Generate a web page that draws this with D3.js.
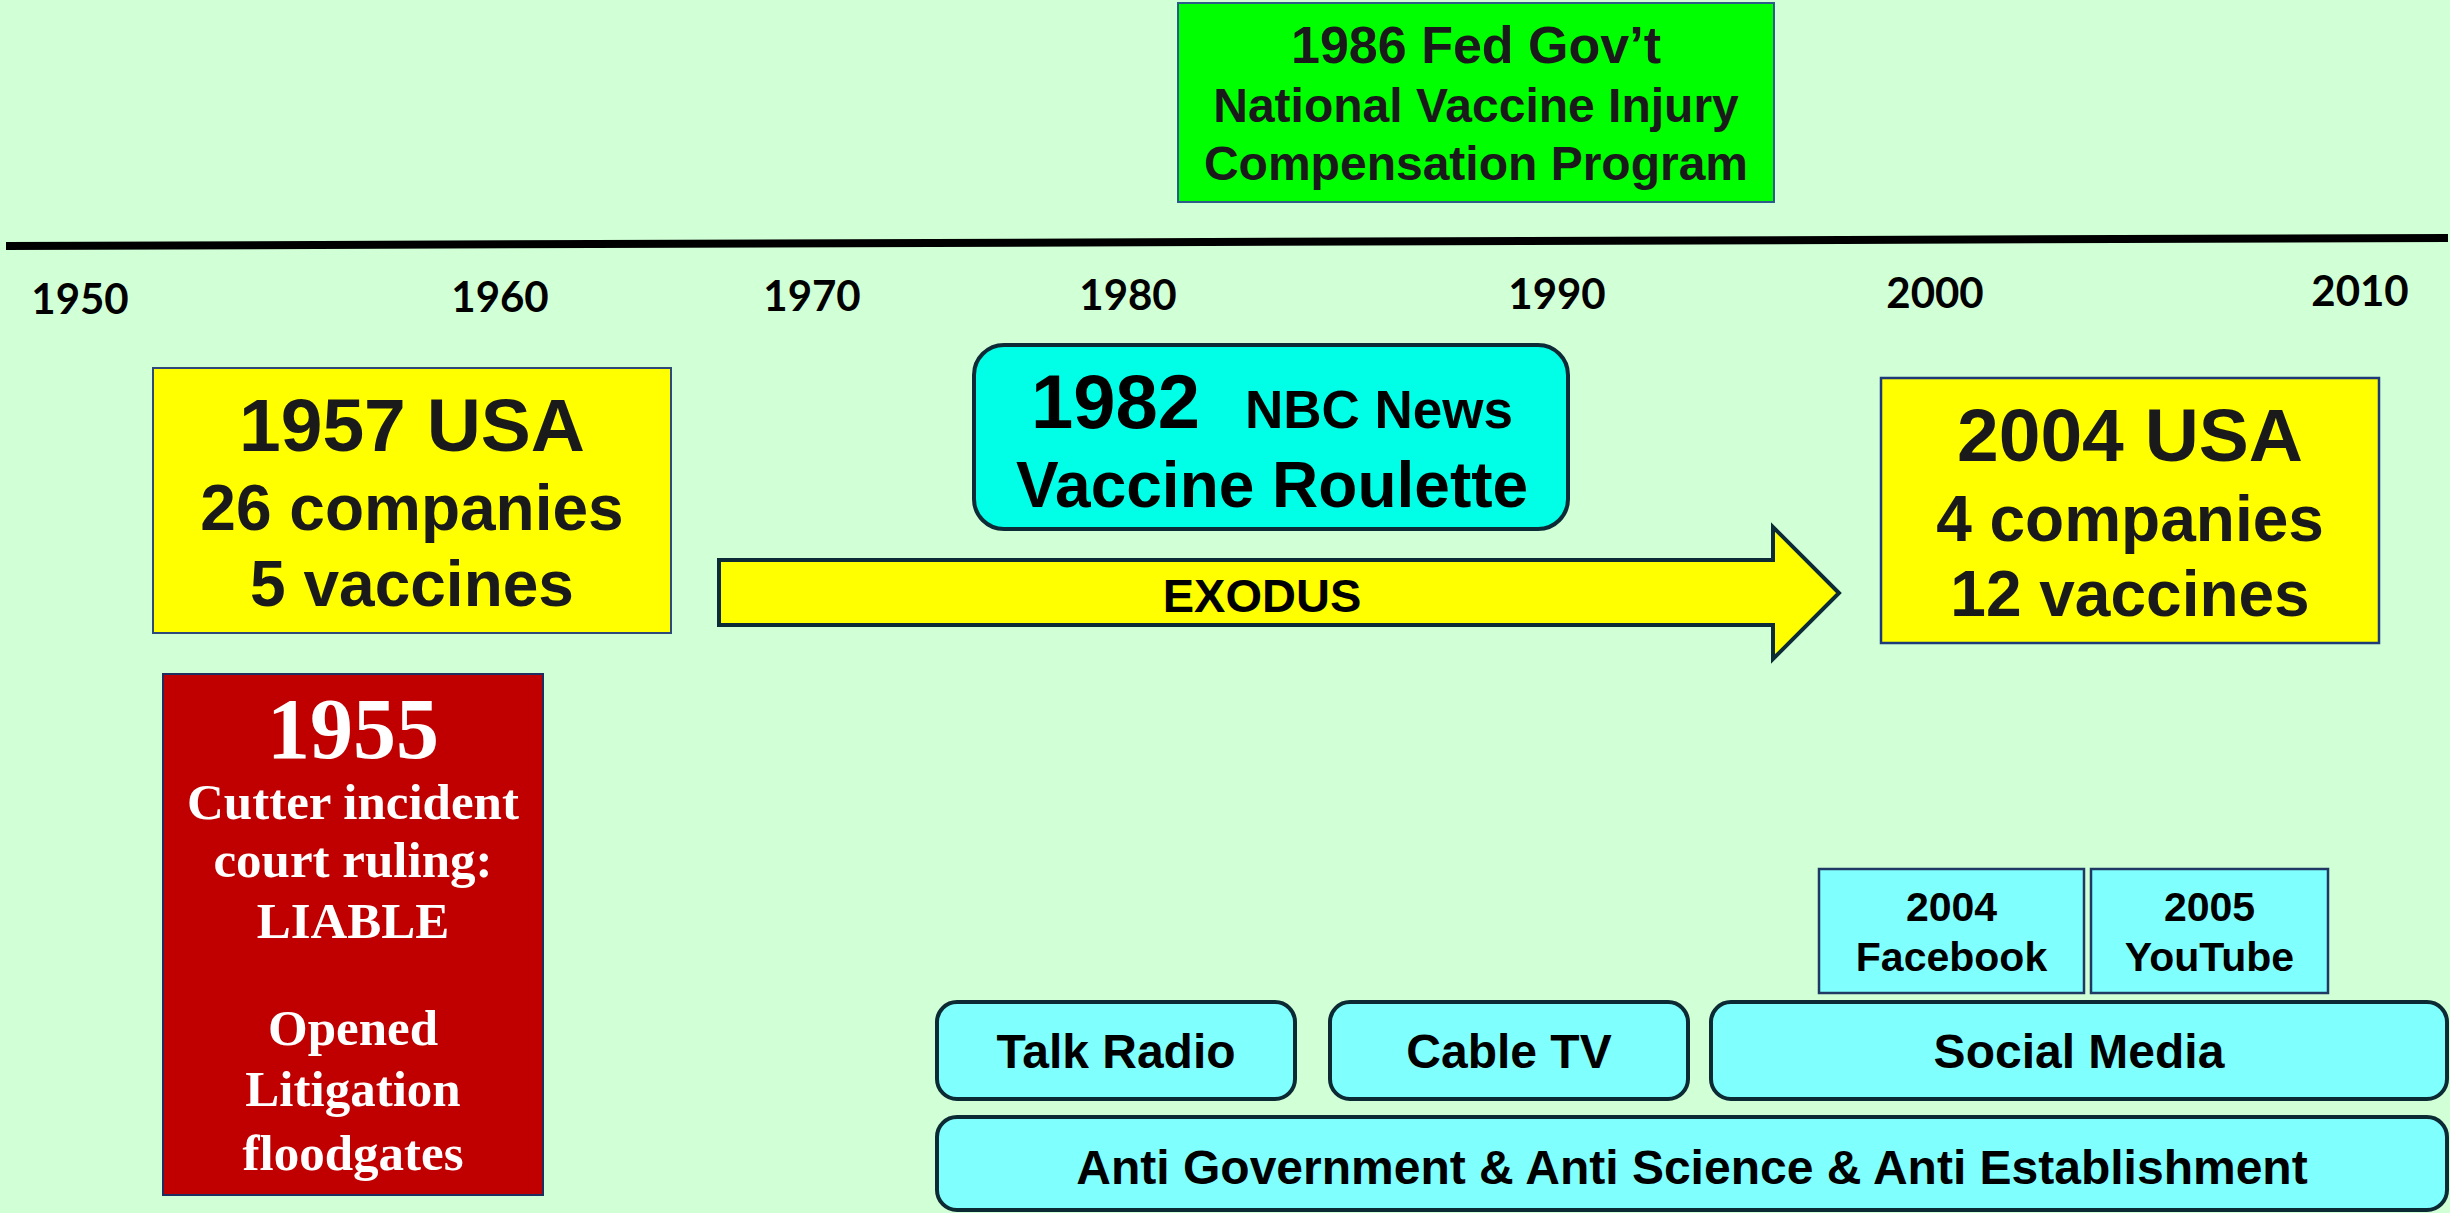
<!DOCTYPE html>
<html>
<head>
<meta charset="utf-8">
<script src="https://cdn.jsdelivr.net/npm/d3@7"></script>
<style>
  html, body { margin: 0; padding: 0; background: #D1FFD6; }
  svg { display: block; }
</style>
</head>
<body>
<div class="chart"></div>
<script>
// --- content ---
const yearTicks = [1950, 1960, 1970, 1980, 1990, 2000, 2010];
const fedProgram = ["1986 Fed Gov\u2019t", "National Vaccine Injury", "Compensation Program"];
const usa1957 = ["1957 USA", "26 companies", "5 vaccines"];
const usa2004 = ["2004 USA", "4 companies", "12 vaccines"];
const cutterLines = ["1955", "Cutter incident", "court ruling:", "LIABLE", "Opened", "Litigation", "floodgates"];
const nbcLines = ["1982", "NBC News", "Vaccine Roulette"];
const exodusLabel = ["EXODUS"];
const platforms = [["2004", "Facebook"], ["2005", "YouTube"]];
const mediaRow = ["Talk Radio", "Cable TV", "Social Media"];
const sentiment = ["Anti Government & Anti Science & Anti Establishment"];

const width = 2450, height = 1213;
const SANS = "'Liberation Sans', Arial, sans-serif";
const SERIF = "'Liberation Serif', 'Times New Roman', serif";

const svg = d3.select(".chart").append("svg")
    .attr("width", width)
    .attr("height", height);

svg.append("rect").attr("width", width).attr("height", height).attr("fill", "#D1FFD6");

// timeline: year labels sit unevenly on the slide, so piecewise scale
const xScale = d3.scaleLinear()
    .domain(yearTicks)
    .range([80, 500, 812, 1128, 1557, 1935, 2360]);
// the line is slightly tilted
const lineY = d3.scaleLinear().domain([6, 2448]).range([246, 238]);

svg.append("line")
    .attr("x1", 6).attr("y1", lineY(6))
    .attr("x2", 2448).attr("y2", lineY(2448))
    .attr("stroke", "#000").attr("stroke-width", 8);

svg.selectAll(".year")
    .data(yearTicks)
    .enter()
    .append("text")
    .attr("class", "year")
    .attr("x", d => xScale(d))
    .attr("y", d => lineY(xScale(d)) + 68)
    .attr("text-anchor", "middle")
    .style("font-family", "Lato, 'Open Sans', sans-serif")
    .style("font-weight", "bold")
    .style("font-size", "42px")
    .attr("fill", "#000")
    .text(d => d);

function box(x, y, w, h, o) {
    return svg.append("rect")
        .attr("x", x).attr("y", y).attr("width", w).attr("height", h)
        .attr("rx", o.rx || 0)
        .attr("fill", o.fill)
        .attr("stroke", o.stroke)
        .attr("stroke-width", o.sw);
}

// lines: array of strings, specs: [baseline, size]
function lines(cx, data, specs, font, color) {
    svg.append("g").selectAll("text")
        .data(data)
        .enter()
        .append("text")
        .attr("x", cx)
        .attr("y", (d, i) => specs[i][0])
        .attr("text-anchor", "middle")
        .style("font-family", font)
        .style("font-weight", "bold")
        .style("font-size", (d, i) => specs[i][1] + "px")
        .attr("fill", color)
        .text(d => d);
}

// green box at top
box(1178, 3, 596, 199, {fill: "#00FF00", stroke: "#2E5C8A", sw: 2});
lines(1476, fedProgram, [[63, 52], [122, 48], [180, 48]], SANS, "#1A1A1A");

// 1957 yellow box
box(153, 368, 518, 265, {fill: "#FFFF00", stroke: "#2F4A7A", sw: 2});
lines(412, usa1957, [[451, 75], [530, 64], [606, 64]], SANS, "#1A1A1A");

// 2004 yellow box
box(1881, 378, 498, 265, {fill: "#FFFF00", stroke: "#1F3A78", sw: 2.5});
lines(2130, usa2004, [[461, 75], [541, 64], [616, 64]], SANS, "#1A1A1A");

// 1955 red box
box(163, 674, 380, 521, {fill: "#C00000", stroke: "#1F2E5E", sw: 2});
lines(353, cutterLines,
    [[758, 86], [819, 51], [877, 51], [938, 51], [1045, 51], [1106, 51], [1170, 51]],
    SERIF, "#FFFFFF");

// 1982 NBC rounded box
box(974, 345, 594, 184, {rx: 30, fill: "#00FFE6", stroke: "#0D2B36", sw: 4});
const nbcTitle = svg.append("text")
    .attr("x", 1272).attr("y", 428)
    .attr("text-anchor", "middle")
    .style("font-family", SANS)
    .style("font-weight", "bold")
    .attr("fill", "#000");
nbcTitle.append("tspan").style("font-size", "76px").text(nbcLines[0]);
nbcTitle.append("tspan").attr("dx", 45).style("font-size", "53px").text(nbcLines[1]);
lines(1272, [nbcLines[2]], [[507, 64]], SANS, "#000");

// EXODUS arrow
const arrow = d3.path();
arrow.moveTo(719, 560);
arrow.lineTo(1773, 560);
arrow.lineTo(1773, 527);
arrow.lineTo(1839, 593);
arrow.lineTo(1773, 659);
arrow.lineTo(1773, 625);
arrow.lineTo(719, 625);
arrow.closePath();
svg.append("path")
    .attr("d", arrow.toString())
    .attr("fill", "#FFFF00")
    .attr("stroke", "#0D2B36")
    .attr("stroke-width", 4)
    .attr("stroke-linejoin", "miter");
lines(1262, exodusLabel, [[612, 47]], SANS, "#000");

// platform boxes
const platformBoxes = [[1819, 265], [2091, 237]];
platforms.forEach((p, i) => {
    const [x, w] = platformBoxes[i];
    box(x, 869, w, 124, {fill: "#80FFFF", stroke: "#1F3864", sw: 2.5});
    lines(x + w / 2, p, [[921, 41], [971, 41]], SANS, "#000");
});

// media row
const mediaBoxes = [[937, 358], [1330, 358], [1711, 736]];
mediaRow.forEach((m, i) => {
    const [x, w] = mediaBoxes[i];
    box(x, 1002, w, 97, {rx: 20, fill: "#80FFFF", stroke: "#0B2A33", sw: 4});
    lines(x + w / 2, [m], [[1068, 48]], SANS, "#000");
});

// bottom sentiment bar
box(937, 1117, 1510, 93, {rx: 20, fill: "#80FFFF", stroke: "#0B2A33", sw: 4});
lines(1692, sentiment, [[1184, 48]], SANS, "#000");
</script>
</body>
</html>
